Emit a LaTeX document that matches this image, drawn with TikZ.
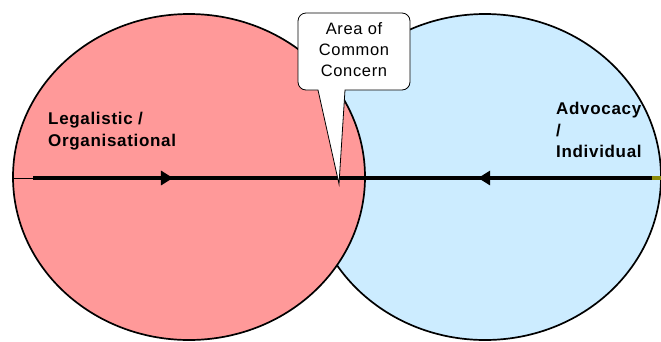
\documentclass[tikz,border=0pt]{standalone}
\usepackage{fontspec}
\setmainfont{Liberation Sans}
\newfontfamily\spacedfont[LetterSpace=4]{Liberation Sans}
\usetikzlibrary{shapes.geometric,arrows.meta,decorations.markings}
\definecolor{legalred}{RGB}{255,153,153}
\definecolor{advocacyblue}{RGB}{204,236,255}
\definecolor{endolive}{RGB}{140,140,10}

\begin{document}
\begin{tikzpicture}[
    x=1pt, y=-1pt,
    every node/.style={align=left, inner sep=0pt},
    zone/.style={ellipse, draw=black, line width=1.7pt, minimum width=352pt, minimum height=326pt},
    zonetext/.style={font=\spacedfont\bfseries\fontsize{17}{21.5}\selectfont, anchor=north west},
    flow/.style={line width=3.8pt, decoration={markings, mark=at position #1 with {\arrow{Triangle[length=12pt,width=14pt]}}}, postaction={decorate}},
    callout/.style={draw=black, fill=white, line width=0.8pt}
]
\useasboundingbox (0,0) rectangle (661,341);

% the two areas
\node[zone, fill=advocacyblue] (advocacy) at (485,177) {};
\node[zone, fill=legalred] (legal) at (189,177) {};

\node[zonetext] (legaltext) at (48,112) {Legalistic /\\Organisational};
\node[zonetext] (advocacytext) at (556,102) {Advocacy\\/\\Individual};

% meeting line
\coordinate (lstart) at (33,178);
\coordinate (meet) at (339,178);
\coordinate (rend) at (661,178);
\coordinate (oliveend) at (652,178);

\draw[line width=0.6pt] (legal.west |- lstart) -- (lstart);
\draw[flow=0.4575] (lstart) -- (meet);
\draw[flow=0.568] (rend) -- (meet);
\draw[line width=3.8pt, endolive] (oliveend) -- (rend);

% callout
\draw[callout, rounded corners=8pt] (345,90) -- (410,90) -- (410,13) -- (298,13) -- (298,90) [sharp corners] -- (318,90) -- (meet |- 0,184) -- cycle;
\node[font=\spacedfont\fontsize{16.5}{21}\selectfont, align=center, anchor=north] (concern) at (354,22) {Area of\\Common\\Concern};

\end{tikzpicture}
\end{document}
